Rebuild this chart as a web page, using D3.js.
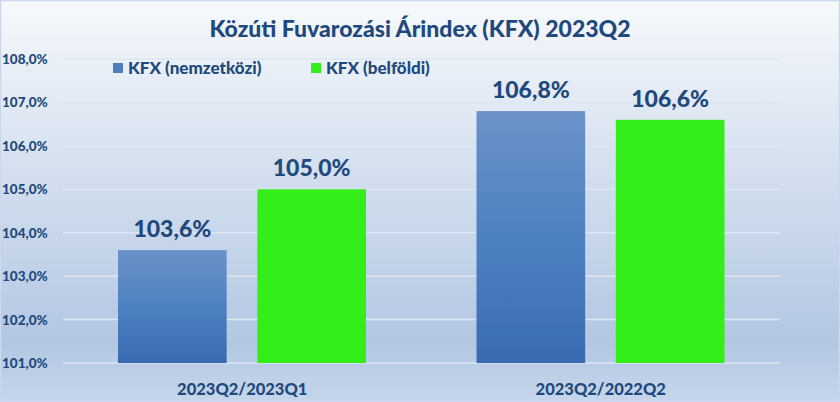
<!DOCTYPE html>
<html><head><meta charset="utf-8">
<script src="https://cdn.jsdelivr.net/npm/d3@7"></script>
<style>html,body{margin:0;padding:0;overflow:hidden;background:#fff}</style>
</head><body>
<svg id="c" width="840" height="402"></svg>
<script>
const categories = ["2023Q2/2023Q1", "2023Q2/2022Q2"];
const seriesNames = ["KFX (nemzetközi)", "KFX (belföldi)"];
const intlValues = [103.6, 106.8];
const domValues = [105.0, 106.6];
const yTicks = [101, 102, 103, 104, 105, 106, 107, 108];
const title = "Közúti Fuvarozási Árindex (KFX) 2023Q2";

const W = 840, H = 402;
const svg = d3.select("#c");
const font = "Lato, 'Open Sans', sans-serif";
const textColor = "#1f497d";

const defs = svg.append("defs");
const bg = defs.append("linearGradient").attr("id","bg").attr("x1",0).attr("y1",0).attr("x2",0).attr("y2",1);
bg.append("stop").attr("offset","0%").attr("stop-color","#f7f9fc");
bg.append("stop").attr("offset","45%").attr("stop-color","#d2deee");
bg.append("stop").attr("offset","85%").attr("stop-color","#b3c7e2");
bg.append("stop").attr("offset","100%").attr("stop-color","#c6d6eb");
const bl = defs.append("linearGradient").attr("id","blue").attr("x1",0).attr("y1",0).attr("x2",0).attr("y2",1);
bl.append("stop").attr("offset","0%").attr("stop-color","#6b92c9");
bl.append("stop").attr("offset","50%").attr("stop-color","#4e81c2");
bl.append("stop").attr("offset","100%").attr("stop-color","#3a6bb0");

svg.append("rect").attr("width",W).attr("height",H).attr("fill","url(#bg)");
svg.append("rect").attr("x",0.5).attr("y",0.5).attr("width",W-1).attr("height",H-1)
  .attr("fill","none").attr("stroke","#c9d8ee").attr("stroke-width",1.5);

const x0 = d3.scaleBand().domain(categories).range([63, 780]);
const x1 = d3.scaleBand().domain(seriesNames).range([55, 303]).paddingInner(0.22);
const y = d3.scaleLinear().domain([101, 108]).range([363, 59]);

// grid
svg.append("g").selectAll("line").data(yTicks).join("line")
  .attr("x1",63).attr("x2",780).attr("y1",d=>y(d)).attr("y2",d=>y(d))
  .attr("stroke","#dde7f3").attr("stroke-width",1.5);

// y axis labels
const fmt = v => d3.format(".1f")(v).replace(".", ",");
svg.append("g").selectAll("text").data(yTicks).join("text")
  .attr("x",2).attr("y",d=>y(d)+5)
  .attr("font-family",font).attr("font-weight","900").attr("font-size",13.5)
  .attr("fill",textColor).text(d=>fmt(d)+"%");

// bars
const series = [
  {name: seriesNames[0], values: intlValues, fill: "url(#blue)"},
  {name: seriesNames[1], values: domValues, fill: "#33ee18"}
];
series.forEach(s => {
  const g = svg.append("g");
  g.selectAll("rect").data(categories).join("rect")
    .attr("x", (c)=>x0(c)+x1(s.name))
    .attr("width", x1.bandwidth())
    .attr("y", (c,i)=>y(s.values[i]))
    .attr("height", (c,i)=>y(101)-y(s.values[i]))
    .attr("fill", s.fill);
  g.selectAll("text").data(categories).join("text")
    .attr("x",(c)=>x0(c)+x1(s.name)+x1.bandwidth()/2)
    .attr("y",(c,i)=>y(s.values[i])-13)
    .attr("text-anchor","middle")
    .attr("font-family",font).attr("font-weight","900").attr("font-size",23)
    .attr("fill",textColor).text((c,i)=>fmt(s.values[i])+"%");
});

// x labels
svg.append("g").selectAll("text").data(categories).join("text")
  .attr("x",c=>x0(c)+x0.bandwidth()/2).attr("y",395)
  .attr("text-anchor","middle")
  .attr("font-family",font).attr("font-weight","900").attr("font-size",16.5)
  .attr("fill",textColor).text(c=>c);

// title
svg.append("text").attr("x",420).attr("y",37).attr("text-anchor","middle")
  .attr("font-family",font).attr("font-weight","900").attr("font-size",23)
  .attr("fill",textColor).text(title);

// legend
const legX = [113, 311];
const legFill = ["#4f7fc0", "#33ee18"];
seriesNames.forEach((n,i)=>{
  svg.append("rect").attr("x",legX[i]).attr("y",63).attr("width",10).attr("height",10).attr("fill",legFill[i]);
  svg.append("text").attr("x",legX[i]+15).attr("y",74)
    .attr("font-family",font).attr("font-weight","900").attr("font-size",17)
    .attr("fill",textColor).text(n);
});
</script>
</body></html>
